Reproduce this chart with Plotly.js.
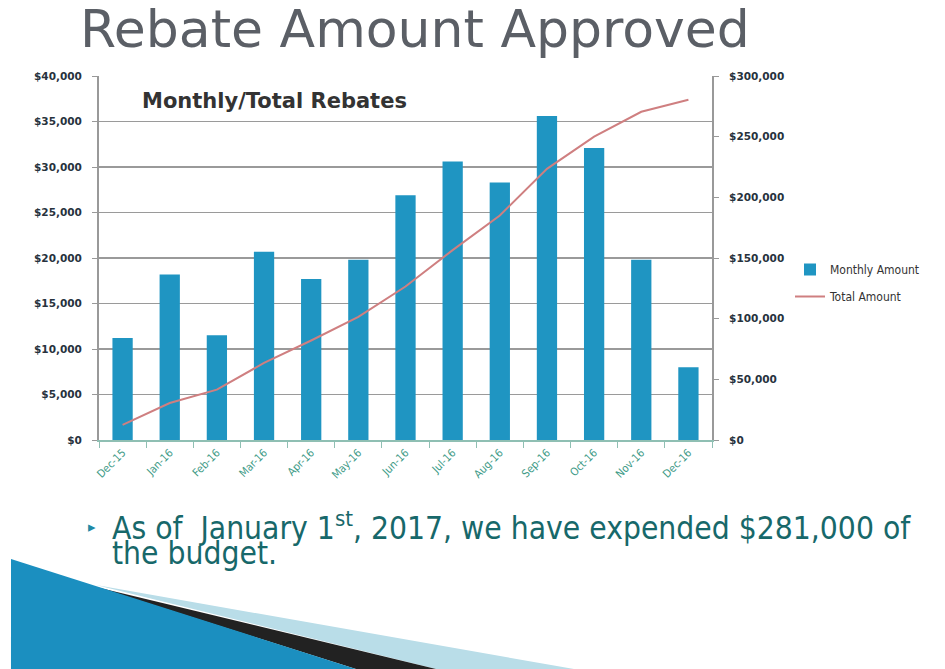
<!DOCTYPE html>
<html>
<head>
<meta charset="utf-8">
<script src="https://cdn.plot.ly/plotly-3.0.1.min.js"></script>
<style>html,body{margin:0;padding:0;background:#fff;}#chart{width:945px;height:669px;}</style>
</head>
<body>
<div id="chart"></div>
<script>
// Data
const months = ["Dec-15","Jan-16","Feb-16","Mar-16","Apr-16","May-16","Jun-16","Jul-16","Aug-16","Sep-16","Oct-16","Nov-16","Dec-16"];
const monthlyAmount = [11200, 18200, 11500, 20700, 17700, 19800, 26900, 30600, 28300, 35600, 32100, 19800, 8000];
const totalAmount = [12500, 30500, 41500, 63500, 82000, 101500, 126500, 156500, 185000, 223500, 250000, 270500, 280500];
const leftTicks = [0, 5000, 10000, 15000, 20000, 25000, 30000, 35000, 40000];
const leftTickText = ["$0","$5,000","$10,000","$15,000","$20,000","$25,000","$30,000","$35,000","$40,000"];
const rightTicks = [0, 50000, 100000, 150000, 200000, 250000, 300000];
const rightTickText = ["$0","$50,000","$100,000","$150,000","$200,000","$250,000","$300,000"];

// plot area geometry helpers (pixels -> paper)
const L = 99, R = 712, T = 76, B = 440;
const px = x => (x - L) / (R - L);
const py = y => (B - y) / (B - T);

const traces = [
  {type: "bar", name: "Monthly Amount", x: months, y: monthlyAmount, legendgroup: "a",
   marker: {color: "#1f95c2"}, yaxis: "y"},
  {type: "scatter", mode: "lines", name: "Total Amount", x: months, y: totalAmount, legendgroup: "b",
   line: {color: "#cf7f80", width: 2}, yaxis: "y2"}
];

function pathPts(pts) {
  return "M " + pts.map(p => px(p[0]).toFixed(4) + "," + py(p[1]).toFixed(4)).join(" L ") + " Z";
}

const tickFont = {size: 10.5, color: "#27323d", family: "DejaVu Sans", weight: "bold"};

const layout = {
  width: 945, height: 669,
  margin: {l: L, r: 945 - R, t: T, b: 669 - B},
  paper_bgcolor: "#ffffff", plot_bgcolor: "#ffffff",
  showlegend: true,
  bargap: 0.57,
  font: {family: "DejaVu Sans, sans-serif"},
  xaxis: {type: "category", showgrid: false, showline: true, linecolor: "#8fbfb3", linewidth: 2,
          ticks: "outside", tickson: "boundaries", ticklen: 6, tickcolor: "#8fbfb3",
          tickangle: -45, tickfont: {size: 11, color: "#3d9a86", family: "DejaVu Sans Condensed, DejaVu Sans, sans-serif"}},
  yaxis: {range: [0, 40000], tickvals: leftTicks, ticktext: leftTickText, showgrid: true,
          gridcolor: "#9a9a9a", gridwidth: 1.5, showline: true, linecolor: "#999", linewidth: 2,
          ticks: "outside", ticklen: 5, tickcolor: "#999", zeroline: false, ticklabelstandoff: 8,
          tickfont: tickFont},
  yaxis2: {range: [0, 300000], tickvals: rightTicks, ticktext: rightTickText, overlaying: "y", side: "right",
           showgrid: false, showline: true, linecolor: "#999", linewidth: 2, ticks: "outside", ticklen: 5,
           tickcolor: "#999", zeroline: false, ticklabelstandoff: 8,
           tickfont: tickFont},
  legend: {x: px(790), y: py(283), xanchor: "left", yanchor: "middle", bgcolor: "rgba(0,0,0,0)",
           font: {size: 12, color: "#333", family: "DejaVu Sans Condensed, DejaVu Sans, sans-serif"},
           tracegroupgap: 8, itemwidth: 30},
  annotations: [
    {text: "Rebate Amount Approved", xref: "paper", yref: "paper", x: px(415), y: py(29),
     xanchor: "center", yanchor: "middle", showarrow: false,
     font: {family: "DejaVu Sans, sans-serif", size: 52, color: "#5b5f66"}},
    {text: "<b>Monthly/Total Rebates</b>", xref: "paper", yref: "paper", x: px(140), y: py(101),
     xanchor: "left", yanchor: "middle", showarrow: false,
     font: {size: 21, color: "#333", family: "DejaVu Sans, sans-serif"}},
    {text: "▸", xref: "paper", yref: "paper", x: px(86), y: py(527), xanchor: "left", yanchor: "middle",
     showarrow: false, font: {size: 15, color: "#1f8aa5"}},
    {text: "As of  January 1<sup>st</sup>, 2017, we have expended $281,000 of",
     xref: "paper", yref: "paper", x: px(110), y: py(526), xanchor: "left", yanchor: "middle", align: "left",
     showarrow: false,
     font: {size: 31.5, color: "#17686a", family: "DejaVu Sans Condensed, sans-serif"}},
    {text: "the budget.",
     xref: "paper", yref: "paper", x: px(110), y: py(553), xanchor: "left", yanchor: "middle", align: "left",
     showarrow: false,
     font: {size: 31.5, color: "#17686a", family: "DejaVu Sans Condensed, sans-serif"}}
  ],
  shapes: [
    {type: "path", xref: "paper", yref: "paper", layer: "below", line: {width: 0},
     fillcolor: "#b9dde8", path: pathPts([[96,585],[574,669],[436,669]])},
    {type: "path", xref: "paper", yref: "paper", layer: "below", line: {width: 0},
     fillcolor: "#222222", path: pathPts([[96,587],[436,669],[356,669]])},
    {type: "path", xref: "paper", yref: "paper", layer: "below", line: {width: 0},
     fillcolor: "#1b8fc0", path: pathPts([[11,559],[356,669],[11,669]])}
  ]
};

Plotly.newPlot("chart", traces, layout, {displayModeBar: false, staticPlot: true});
</script>
</body>
</html>
